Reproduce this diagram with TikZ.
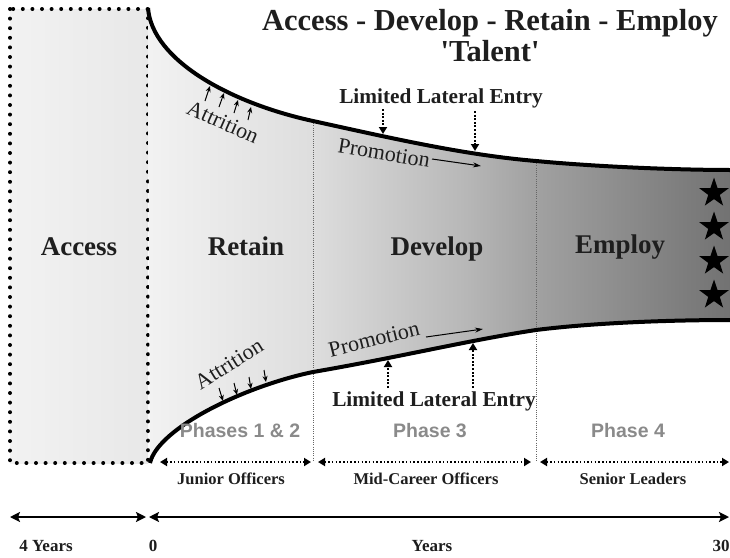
\documentclass[tikz,border=0pt]{standalone}
\usepackage{fontspec}
\setmainfont{Liberation Serif}
\newfontfamily\phasefont{Liberation Sans}
\usetikzlibrary{arrows.meta,shapes.geometric}
\definecolor{fA}{HTML}{F2F2F2}
\definecolor{fB}{HTML}{DEDEDE}
\definecolor{fC}{HTML}{B8B8B8}
\definecolor{fD}{HTML}{A2A2A2}
\definecolor{fE}{HTML}{727272}
\definecolor{phasegray}{HTML}{8A8A8A}
\definecolor{ink}{HTML}{1E1E1E}
\pgfdeclarehorizontalshading{funnelshade}{100bp}{color(0bp)=(fA); color(25bp)=(fA); color(39bp)=(fB); color(52bp)=(fC); color(58bp)=(fD); color(75bp)=(fE); color(100bp)=(fE)}
\begin{document}
\begin{tikzpicture}[x=1pt,y=-1pt,
  bigl/.style={font=\bfseries\fontsize{27}{30}\selectfont, text=ink, inner sep=0pt, anchor=base},
  titlel/.style={font=\bfseries\fontsize{30.5}{34}\selectfont, text=ink, inner sep=0pt},
  entryl/.style={font=\bfseries\fontsize{21.3}{24}\selectfont, text=ink, inner sep=0pt},
  slant/.style={font=\fontsize{22}{24}\selectfont, text=ink, inner sep=0pt},
  phasel/.style={font=\phasefont\bfseries\fontsize{19.5}{22}\selectfont, text=phasegray, inner sep=0pt},
  rankl/.style={font=\bfseries\fontsize{16.5}{19}\selectfont, text=ink, inner sep=0pt},
  yearl/.style={font=\bfseries\fontsize{17}{19}\selectfont, text=ink, inner sep=0pt},
  wall/.style={line width=4pt, black},
  dotbox/.style={line width=4pt, line cap=round, dash pattern=on 0pt off 9.6pt},
  phaseline/.style={line width=0.7pt, black!60, dash pattern=on 1pt off 1.2pt},
  entryarrow/.style={line width=2.6pt, dash pattern=on 2pt off 1.6pt, -{Triangle[length=7pt,width=8pt]}},
  smallarrow/.style={line width=1pt, -{Stealth[length=6pt,width=5pt]}},
  promoarrow/.style={line width=1pt, -{Stealth[length=8pt,width=5pt]}},
  spanarrow/.style={line width=2.4pt, dash pattern=on 1.5pt off 2.2pt, {Triangle[length=7pt,width=8pt]}-{Triangle[length=7pt,width=8pt]}},
  axisarrow/.style={line width=2.6pt, {Stealth[length=10pt,width=10pt,inset=2pt]}-{Stealth[length=10pt,width=10pt,inset=2pt]}},
  starl/.style={star, star points=5, star point ratio=2.55, fill=black, minimum size=31pt, inner sep=0pt}
]
\useasboundingbox (0,0) rectangle (730,557);

% Access box
\shade[left color=fA, right color=black!9] (10,9) rectangle (148,463);
\draw[dotbox] (10,9) rectangle (148,463);

% funnel
\shade[shading=funnelshade] (148,8) .. controls (152,60) and (230,103) .. (313,121) .. controls (395,139) and (465,155) .. (536,161) .. controls (600,167) and (680,170) .. (730,170) -- (730,320) .. controls (680,320) and (600,322) .. (536,330) .. controls (470,340) and (400,357) .. (313,372) .. controls (245,386) and (158,428) .. (150,462) -- cycle;

% phase separators
\coordinate (p1t) at (313,121); \coordinate (p1b) at (313,462);
\coordinate (p2t) at (536,161); \coordinate (p2b) at (536,462);
\draw[phaseline] (p1t) -- (p1b);
\draw[phaseline] (p2t) -- (p2b);

% funnel walls
\draw[wall] (148,8) .. controls (152,60) and (230,103) .. (313,121) .. controls (395,139) and (465,155) .. (536,161) .. controls (600,167) and (680,170) .. (731,170);
\draw[wall] (731,320) .. controls (680,320) and (600,322) .. (536,330) .. controls (470,340) and (400,357) .. (313,372) .. controls (245,386) and (158,428) .. (150,463);

% stars
\node[starl] (s1) at (714,193) {};
\node[starl] (s2) at (714,227) {};
\node[starl] (s3) at (714,261) {};
\node[starl] (s4) at (714,295) {};

% titles
\node[titlel] (title) at (490,23) {Access - Develop - Retain - Employ};
\node[titlel] (talent) at (490,51) {\textquotesingle Talent\textquotesingle};

% region labels
\node[bigl] (access) at (79,255) {Access};
\node[bigl] (retain) at (246,255) {Retain};
\node[bigl] (develop) at (437,255) {Develop};
\node[bigl] (employ) at (620,253) {Employ};

% upper lateral entry
\node[entryl] (lleu) at (441,98) {Limited Lateral Entry};
\coordinate (lu1a) at (383,109); \coordinate (lu1b) at (383,134);
\coordinate (lu2a) at (475,111); \coordinate (lu2b) at (475,151);
\draw[entryarrow] (lu1a) -- (lu1b);
\draw[entryarrow] (lu2a) -- (lu2b);

% lower lateral entry
\node[entryl] (llel) at (434,401) {Limited Lateral Entry};
\coordinate (ll1a) at (388,388); \coordinate (ll1b) at (388,360);
\coordinate (ll2a) at (473,388); \coordinate (ll2b) at (473,343);
\draw[entryarrow] (ll1a) -- (ll1b);
\draw[entryarrow] (ll2a) -- (ll2b);

% promotion
\node[slant, rotate=-9.5] (promu) at (384,153) {Promotion};
\coordinate (pu1) at (432,159); \coordinate (pu2) at (481,166);
\draw[promoarrow] (pu1) -- (pu2);
\node[slant, rotate=14] (proml) at (374,339) {Promotion};
\coordinate (pl1) at (426,337); \coordinate (pl2) at (483,329);
\draw[promoarrow] (pl1) -- (pl2);

% attrition
\node[slant, rotate=-24] (attu) at (223,122) {Attrition};
\coordinate (au1a) at (205,101); \coordinate (au1b) at (210,86);
\coordinate (au2a) at (219,107); \coordinate (au2b) at (224,93);
\coordinate (au3a) at (234,113); \coordinate (au3b) at (238,100);
\coordinate (au4a) at (248,120); \coordinate (au4b) at (251,107);
\draw[smallarrow] (au1a) -- (au1b);
\draw[smallarrow] (au2a) -- (au2b);
\draw[smallarrow] (au3a) -- (au3b);
\draw[smallarrow] (au4a) -- (au4b);

\node[slant, rotate=32] (attl) at (229,364) {Attrition};
\coordinate (al1a) at (219,388); \coordinate (al1b) at (223,401);
\coordinate (al2a) at (234,383); \coordinate (al2b) at (237,395);
\coordinate (al3a) at (249,377); \coordinate (al3b) at (251,389);
\coordinate (al4a) at (264,370); \coordinate (al4b) at (266,382);
\draw[smallarrow] (al1a) -- (al1b);
\draw[smallarrow] (al2a) -- (al2b);
\draw[smallarrow] (al3a) -- (al3b);
\draw[smallarrow] (al4a) -- (al4b);

% phases
\node[phasel] (ph12) at (240,431) {Phases 1 \& 2};
\node[phasel] (ph3) at (430,431) {Phase 3};
\node[phasel] (ph4) at (628,431) {Phase 4};

% rank spans
\coordinate (j1) at (160,462); \coordinate (j2) at (311,462);
\coordinate (m1) at (318,462); \coordinate (m2) at (531,462);
\coordinate (r1) at (540,462); \coordinate (r2) at (729,462);
\draw[spanarrow] (j1) -- (j2);
\draw[spanarrow] (m1) -- (m2);
\draw[spanarrow] (r1) -- (r2);
\node[rankl] (junior) at (231,479) {Junior Officers};
\node[rankl] (mid) at (426,479) {Mid-Career Officers};
\node[rankl] (senior) at (633,479) {Senior Leaders};

% year axis
\coordinate (y1) at (10,517); \coordinate (y2) at (146,517);
\coordinate (y3) at (149,517); \coordinate (y4) at (729,517);
\draw[axisarrow] (y1) -- (y2);
\draw[axisarrow] (y3) -- (y4);
\node[yearl] (four) at (46,546) {4 Years};
\node[yearl] (zero) at (153,546) {0};
\node[yearl] (years) at (432,546) {Years};
\node[yearl] (thirty) at (721,546) {30};
\end{tikzpicture}
\end{document}
